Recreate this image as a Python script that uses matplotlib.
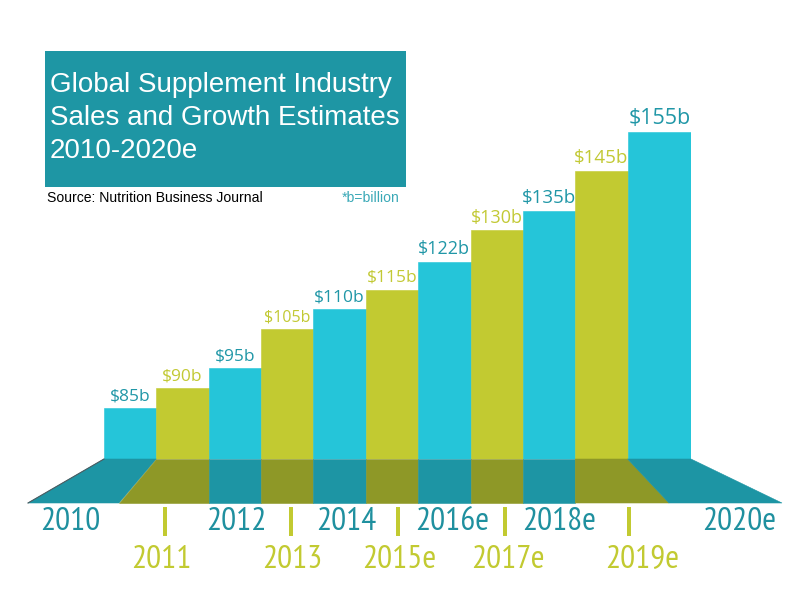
import matplotlib
matplotlib.use("Agg")
import matplotlib.pyplot as plt
from matplotlib.patches import Polygon, Rectangle
import numpy as np

# ---------------- data ----------------
years = ["2010", "2011", "2012", "2013", "2014", "2015e",
         "2016e", "2017e", "2018e", "2019e", "2020e"]
sales = [85, 90, 95, 105, 110, 115, 122, 130, 135, 145, 155]
value_labels = [f"${v}b" for v in sales]

title_lines = ["Global Supplement Industry",
               "Sales and Growth Estimates",
               "2010-2020e"]
source_text = "Source: Nutrition Business Journal"
note_text = "*b=billion"

# ---------------- styles ----------------
CYAN = "#25c5d9"
OLIVE = "#c2ca31"
FLOOR_TEAL = "#1d95a4"
FLOOR_OLIVE = "#8e9827"
BOX = "#1e96a4"
LABEL_TEAL = "#2097a7"
LABEL_OLIVE = "#c2c934"
YEAR_TEAL = "#1f909f"
NOTE = "#3aa9b7"

W, H = 800, 593
fig = plt.figure(figsize=(W / 100, H / 100), dpi=100)

# ---------------- bars ----------------
floor_top = 459
floor_bot = 503
bx_left, bx_right = 104, 691
bx = fig.add_axes([bx_left / W, (H - floor_top) / H,
                   (bx_right - bx_left) / W, floor_top / H])
bx.axis("off")
widths = [1.0] * 10 + [1.21]
xpos = np.concatenate([[0], np.cumsum(widths)[:-1]])
ymin, ymax = 72.05, 188.4
bx.set_xlim(0, sum(widths))
bx.set_ylim(ymin, ymax)
bar_colors = [CYAN if i % 2 == 0 else OLIVE for i in range(len(sales))]
bx.bar(xpos, np.array(sales) - ymin, bottom=ymin, width=widths, align="edge",
       color=bar_colors, edgecolor=bar_colors, linewidth=0.4)

label_sizes = [12.5, 12.5, 12.5, 11.5, 12.5, 12.5, 13, 13, 13.5, 13.5, 15.5]
for i, (xv, w, v, lab) in enumerate(zip(xpos, widths, sales, value_labels)):
    bx.annotate(lab, (xv + w / 2, v), xytext=(0, 5.6), textcoords="offset points",
                ha="center", va="baseline", fontsize=label_sizes[i],
                color=LABEL_TEAL if i % 2 == 0 else LABEL_OLIVE,
                family="Open Sans", annotation_clip=False)

# ---------------- overlay (pixel coordinates) ----------------
ov = fig.add_axes([0, 0, 1, 1])
ov.set_xlim(0, W)
ov.set_ylim(H, 0)
ov.axis("off")
ov.patch.set_alpha(0)

edges = np.concatenate([xpos, [sum(widths)]])
top_px = bx.transData.transform(np.column_stack([edges, np.full(len(edges), ymin)]))[:, 0]
bot_px = list(top_px)
bot_px[0] = 28
bot_px[1] = 119
bot_px[-2] = 669
bot_px[-1] = 782
for i in range(len(sales)):
    fc = FLOOR_TEAL if i % 2 == 0 else FLOOR_OLIVE
    poly = Polygon([(top_px[i], floor_top), (top_px[i + 1], floor_top),
                    (bot_px[i + 1], floor_bot), (bot_px[i], floor_bot)],
                   closed=True, facecolor=fc, edgecolor=fc, linewidth=0.4)
    ov.add_patch(poly)
ov.plot([bot_px[0], top_px[0]], [floor_bot, floor_top], color="#4d5b60", lw=0.8)

# title box
ov.add_patch(Rectangle((44.7, 51), 361, 135.7, facecolor=BOX, edgecolor="none"))
for line, base in zip(title_lines, [91.7, 125.2, 158.3]):
    ov.text(50, base, line, color="white", fontsize=20, family="Liberation Sans",
            va="baseline", ha="left")
ov.text(47.3, 201.7, source_text, color="black", fontsize=10.1,
        family="Liberation Sans", va="baseline", ha="left")
ov.text(399.3, 201.7, note_text, color=NOTE, fontsize=10.1,
        family="Liberation Sans", va="baseline", ha="right")

# year labels (staggered)
upper_x = [70, 236, 346, 452.5, 559, 739]
lower_x = [161, 292.5, 399, 507.5, 642.5]
sep_x = [165, 291, 397.5, 505, 628.5]
for lab, xc in zip(years[0::2], upper_x):
    ov.text(xc, 530, lab, color=YEAR_TEAL, fontsize=24, family="PT Sans Narrow",
            ha="center", va="baseline")
for lab, xc in zip(years[1::2], lower_x):
    ov.text(xc, 568, lab, color=OLIVE, fontsize=24, family="PT Sans Narrow",
            ha="center", va="baseline")
for xc in sep_x:
    ov.add_patch(Rectangle((xc - 2, 507), 4, 29, facecolor=OLIVE, edgecolor="none"))

fig.savefig("out.png", dpi=100)
